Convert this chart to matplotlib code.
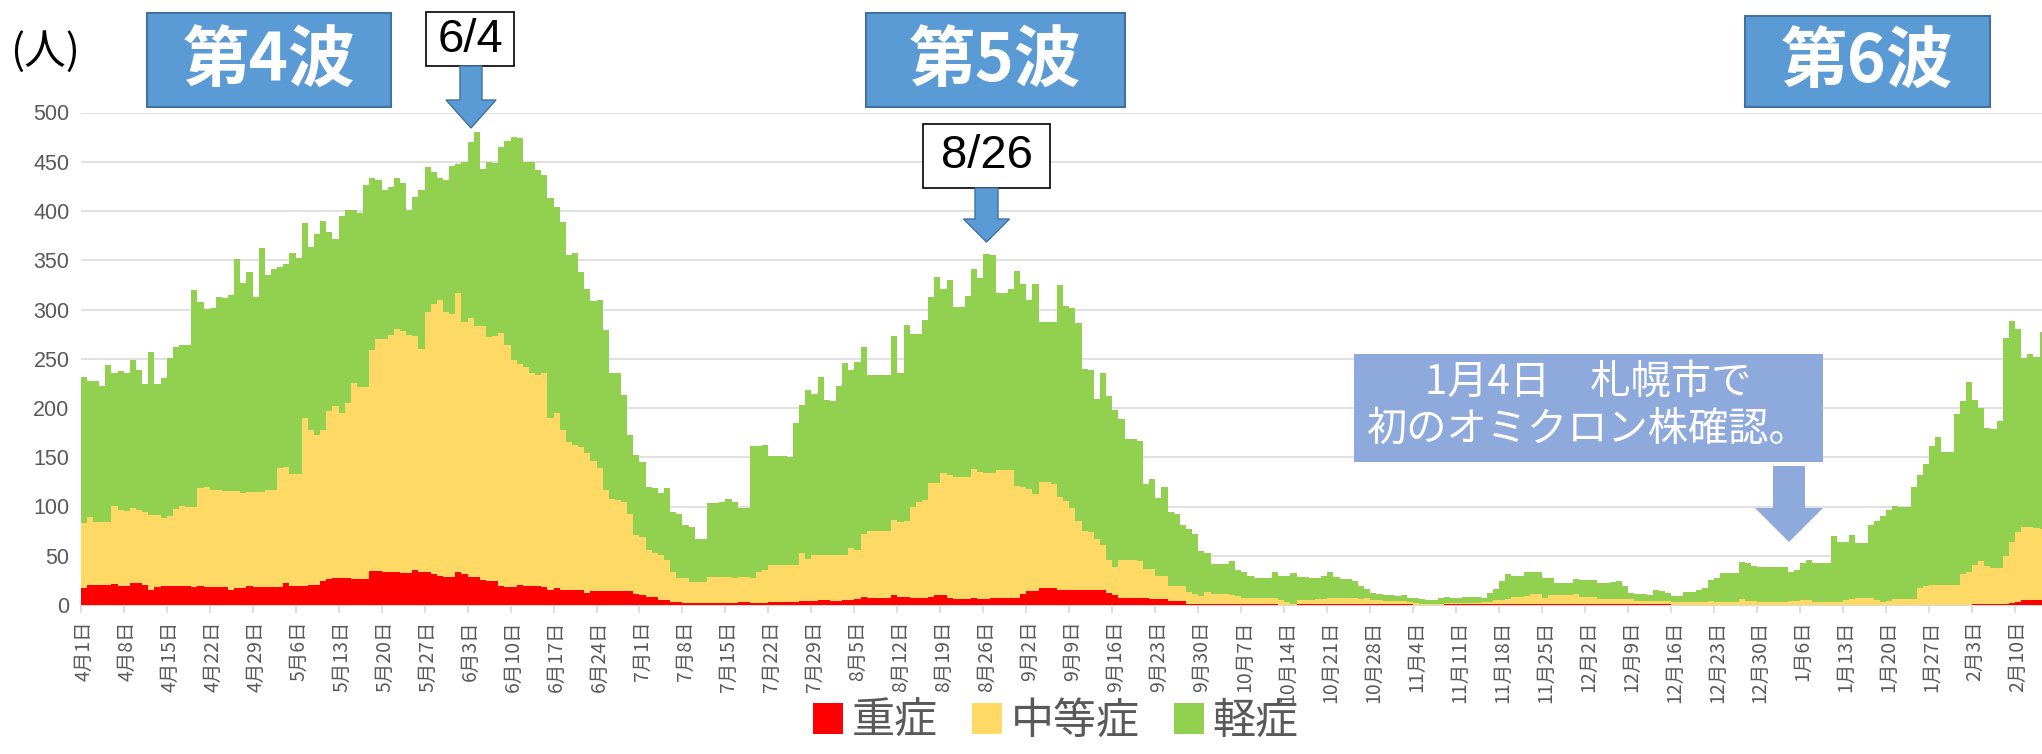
import numpy as np
import matplotlib
matplotlib.use("Agg")
import matplotlib.pyplot as plt
from matplotlib.patches import Rectangle, Polygon

W, H = 2042, 754

# daily inpatients by severity, 2021-04-01 .. 2022-02-14
severe = [
    17, 20, 20, 20, 20, 21, 19, 19, 22, 22,
    20, 15, 18, 19, 19, 19, 19, 19, 18, 19,
    18, 18, 18, 18, 15, 17, 17, 19, 18, 18,
    18, 18, 18, 22, 19, 19, 19, 20, 20, 24,
    26, 27, 27, 27, 26, 26, 26, 35, 35, 34,
    34, 34, 32, 32, 36, 34, 33, 31, 29, 28,
    28, 34, 31, 28, 28, 25, 24, 24, 19, 18,
    18, 20, 19, 19, 19, 18, 15, 17, 15, 15,
    15, 15, 12, 14, 14, 14, 14, 14, 14, 14,
    11, 10, 8, 8, 5, 5, 3, 3, 2, 2,
    2, 2, 2, 2, 2, 2, 2, 3, 3, 2,
    2, 2, 3, 3, 3, 3, 3, 4, 4, 4,
    5, 5, 4, 4, 5, 5, 6, 8, 7, 7,
    7, 7, 10, 8, 8, 7, 7, 7, 8, 10,
    10, 7, 6, 6, 6, 7, 6, 6, 7, 7,
    7, 7, 7, 11, 14, 14, 17, 17, 17, 15,
    15, 15, 15, 15, 15, 15, 15, 12, 10, 7,
    7, 7, 7, 7, 6, 6, 6, 4, 4, 4,
    1, 1, 1, 1, 1, 1, 1, 1, 1, 1,
    1, 1, 1, 1, 1, 0, 0, 0, 1, 1,
    1, 1, 1, 1, 1, 1, 1, 1, 1, 1,
    1, 1, 1, 1, 1, 1, 1, 0, 0, 0,
    0, 0, 1, 1, 1, 1, 1, 1, 1, 1,
    1, 1, 1, 1, 1, 1, 1, 1, 1, 1,
    1, 1, 1, 1, 1, 1, 1, 1, 1, 1,
    1, 1, 1, 1, 1, 1, 1, 1, 1, 0,
    0, 0, 0, 0, 0, 0, 0, 0, 0, 0,
    0, 0, 0, 0, 0, 0, 0, 0, 0, 0,
    0, 0, 0, 0, 0, 0, 0, 0, 0, 0,
    0, 0, 0, 0, 0, 0, 0, 0, 0, 0,
    0, 0, 0, 0, 0, 0, 0, 0, 1, 1,
    1, 1, 1, 1, 2, 3, 5, 5, 5, 5,
]
moderate = [
    66, 69, 64, 64, 64, 80, 77, 76, 76, 74,
    74, 76, 73, 69, 71, 78, 82, 81, 82, 100,
    102, 99, 99, 98, 101, 99, 97, 96, 97, 97,
    99, 99, 121, 118, 114, 114, 171, 158, 153, 154,
    171, 175, 168, 178, 199, 195, 195, 224, 235, 236,
    240, 246, 246, 242, 237, 226, 264, 275, 281, 269,
    267, 283, 256, 263, 255, 258, 248, 249, 257, 246,
    231, 225, 223, 217, 215, 218, 175, 178, 163, 150,
    147, 145, 142, 132, 125, 103, 94, 93, 91, 78,
    60, 59, 48, 45, 46, 41, 30, 24, 25, 21,
    21, 21, 26, 26, 26, 26, 25, 25, 25, 25,
    31, 34, 38, 38, 38, 38, 38, 49, 43, 47,
    46, 46, 47, 47, 46, 53, 50, 64, 68, 68,
    68, 68, 76, 76, 77, 93, 98, 100, 116, 114,
    124, 125, 124, 124, 124, 131, 129, 128, 127, 130,
    130, 130, 114, 109, 104, 99, 108, 108, 106, 95,
    91, 83, 70, 60, 59, 52, 46, 34, 29, 39,
    39, 39, 38, 30, 31, 23, 23, 15, 15, 15,
    12, 10, 8, 12, 10, 10, 10, 9, 8, 6,
    6, 6, 6, 6, 6, 5, 3, 1, 4, 4,
    4, 5, 5, 6, 6, 6, 6, 6, 5, 6,
    4, 4, 3, 3, 3, 3, 2, 2, 1, 1,
    1, 1, 1, 1, 1, 1, 1, 1, 2, 2,
    4, 4, 5, 7, 7, 8, 10, 10, 6, 9,
    9, 9, 9, 10, 7, 7, 7, 5, 5, 5,
    5, 5, 5, 3, 3, 3, 3, 3, 3, 3,
    3, 3, 3, 3, 3, 4, 3, 3, 3, 3,
    6, 4, 4, 3, 3, 3, 3, 3, 4, 4,
    5, 5, 3, 3, 3, 3, 3, 5, 6, 7,
    7, 7, 5, 3, 4, 6, 6, 6, 6, 17,
    19, 20, 20, 20, 20, 20, 31, 33, 40, 44,
    39, 37, 37, 49, 62, 71, 74, 74, 73, 72,
]
mild = [
    148, 138, 143, 138, 160, 135, 142, 141, 151, 143,
    130, 166, 133, 142, 161, 165, 163, 164, 220, 189,
    181, 185, 196, 196, 199, 235, 213, 223, 198, 247,
    218, 224, 204, 206, 224, 219, 198, 185, 204, 212,
    182, 170, 200, 196, 176, 177, 205, 175, 161, 151,
    150, 153, 150, 127, 141, 161, 148, 134, 124, 134,
    151, 131, 163, 179, 197, 160, 178, 176, 189, 207,
    226, 229, 208, 214, 208, 201, 223, 209, 211, 190,
    195, 178, 167, 163, 171, 162, 128, 129, 108, 81,
    81, 76, 64, 66, 63, 73, 61, 65, 54, 56,
    44, 44, 76, 76, 77, 80, 78, 70, 70, 134,
    128, 126, 110, 110, 110, 109, 144, 150, 171, 163,
    180, 157, 156, 171, 195, 181, 191, 190, 159, 159,
    158, 159, 187, 152, 199, 175, 170, 182, 189, 209,
    187, 198, 173, 173, 184, 203, 197, 222, 221, 180,
    180, 184, 218, 206, 192, 213, 162, 162, 164, 215,
    198, 204, 201, 165, 165, 142, 175, 166, 159, 143,
    123, 123, 122, 86, 91, 80, 91, 75, 73, 62,
    64, 61, 46, 40, 31, 31, 31, 35, 27, 26,
    22, 20, 20, 20, 26, 24, 26, 31, 23, 23,
    22, 21, 23, 26, 21, 19, 19, 17, 13, 9,
    7, 6, 6, 6, 5, 6, 4, 5, 5, 4,
    4, 6, 6, 5, 5, 6, 6, 6, 4, 9,
    11, 19, 25, 21, 21, 24, 22, 22, 20, 17,
    12, 12, 12, 15, 17, 17, 17, 16, 16, 17,
    18, 13, 6, 7, 7, 6, 11, 10, 8, 6,
    6, 10, 10, 12, 14, 21, 24, 29, 29, 29,
    38, 39, 36, 36, 36, 36, 36, 36, 30, 32,
    38, 41, 40, 40, 40, 67, 61, 59, 65, 56,
    56, 74, 80, 87, 92, 95, 93, 93, 114, 115,
    124, 141, 151, 135, 135, 174, 176, 193, 167, 155,
    140, 141, 149, 221, 224, 206, 172, 176, 174, 200,
]
tick_labels = [
    "4月1日", "4月8日", "4月15日", "4月22日", "4月29日", "5月6日", "5月13日",
    "5月20日", "5月27日", "6月3日", "6月10日", "6月17日", "6月24日", "7月1日",
    "7月8日", "7月15日", "7月22日", "7月29日", "8月5日", "8月12日", "8月19日",
    "8月26日", "9月2日", "9月9日", "9月16日", "9月23日", "9月30日", "10月7日",
    "10月14日", "10月21日", "10月28日", "11月4日", "11月11日", "11月18日",
    "11月25日", "12月2日", "12月9日", "12月16日", "12月23日", "12月30日",
    "1月6日", "1月13日", "1月20日", "1月27日", "2月3日", "2月10日",
]
y_ticks = [0, 50, 100, 150, 200, 250, 300, 350, 400, 450, 500]
series_names = ["重症", "中等症", "軽症"]
series_colors = ["#FF0000", "#FFD966", "#92D050"]

JP = ["Noto Sans CJK JP", "DejaVu Sans"]
NUM = ["Liberation Sans Narrow", "Liberation Sans", "DejaVu Sans"]
GRAY = "#595959"


def fpt(x, y):
    # pixel position (top-left origin) -> figure fraction
    return x / W, 1 - y / H


fig = plt.figure(figsize=(W / 100, H / 100), dpi=100)
ax = fig.add_axes([80.7 / W, 1 - 605 / H, (W - 80.7) / W, (605 - 112.5) / H])

x = np.arange(len(mild))
low = np.array(severe)
mid = low + np.array(moderate)
b1 = ax.bar(x, severe, width=1.0, color=series_colors[0], linewidth=0, zorder=3)
b2 = ax.bar(x, moderate, width=1.0, bottom=low, color=series_colors[1], linewidth=0, zorder=3)
b3 = ax.bar(x, mild, width=1.0, bottom=mid, color=series_colors[2], linewidth=0, zorder=3)

ax.set_xlim(-0.5, 318.9)
ax.set_ylim(0, 500)
ax.set_yticks(y_ticks)
ax.grid(axis="y", color="#D9D9D9", linewidth=1.1, zorder=0)
ax.set_axisbelow(True)
for side in ["left", "right", "top"]:
    ax.spines[side].set_visible(False)
ax.spines["bottom"].set_color("#D9D9D9")
ax.spines["bottom"].set_linewidth(1.5)
ax.spines["bottom"].set_zorder(1)
ax.tick_params(axis="y", length=0, pad=8, labelsize=15.5, labelcolor=GRAY)
for lab in ax.get_yticklabels():
    lab.set_fontfamily(NUM)

label_pos = np.arange(len(tick_labels)) * 7
ax.set_xticks(label_pos - 0.5)
ax.set_xticklabels([])
ax.tick_params(axis="x", which="major", length=6, color="#D9D9D9", width=1.2)
ax.set_xticks(label_pos, minor=True)
ax.set_xticklabels(tick_labels, minor=True, rotation=90, fontsize=14,
                   color=GRAY, family=JP)
ax.tick_params(axis="x", which="minor", length=0, pad=11)

fig.legend([b1, b2, b3], series_names, loc="center", bbox_to_anchor=(0.517, 0.043),
           ncol=3, frameon=False, handlelength=0.7, handleheight=0.75,
           handletextpad=0.2, columnspacing=0.8, labelcolor=GRAY,
           prop={"family": JP, "size": 31})


def box(x0, y0, x1, y1, face, edge=None, lw=0.0):
    fig.patches.append(Rectangle(fpt(x0, y1), (x1 - x0) / W, (y1 - y0) / H,
                                 transform=fig.transFigure, facecolor=face,
                                 edgecolor=edge or face, linewidth=lw))


def down_arrow(cx, top, neck, tip, shaft, head, face, edge=None, lw=0.0):
    pts = [(cx - shaft, top), (cx + shaft, top), (cx + shaft, neck), (cx + head, neck),
           (cx, tip), (cx - head, neck), (cx - shaft, neck)]
    fig.patches.append(Polygon([fpt(px, py) for px, py in pts], closed=True,
                               transform=fig.transFigure, facecolor=face,
                               edgecolor=edge or face, linewidth=lw))


def label(xc, yc, s, **kw):
    fig.text(*fpt(xc, yc), s, ha="center", va="center", **kw)


# axis unit
label(45, 52, "(人)", fontsize=30, family=JP, color="black")

# wave banners
for x0, x1, y0, txt in [(147, 391, 13, "第4波"), (866, 1125, 13, "第5波"),
                        (1745, 1990, 16, "第6波")]:
    box(x0, y0, x1, 107, "#5B9BD5", "#41719C", 1.5)
    label((x0 + x1) / 2, (y0 + 107) / 2 + 2, txt, fontsize=48, fontweight="bold",
          family=JP, color="white")

# peak callouts
box(426, 12, 514, 66, "white", "black", 1.2)
label(470, 40, "6/4", fontsize=34, family=NUM, color="black")
down_arrow(471, 66, 100, 128, 11, 25, "#5B9BD5", "#41719C", 1.0)

box(923, 124, 1050, 188, "white", "black", 1.2)
label(986.5, 156, "8/26", fontsize=34, family=NUM, color="black")
down_arrow(986.5, 188, 219, 242, 11.5, 23, "#5B9BD5", "#41719C", 1.0)

# omicron note
box(1354, 354, 1823, 462, "#8EA9DB")
label(1588.5, 382, "1月4日　札幌市で", fontsize=29, family=JP, color="white")
label(1588.5, 429, "初のオミクロン株確認。", fontsize=29, family=JP, color="white")
down_arrow(1789, 466, 508, 542, 16, 34, "#8EA9DB")

fig.savefig("out.png", dpi=100)
